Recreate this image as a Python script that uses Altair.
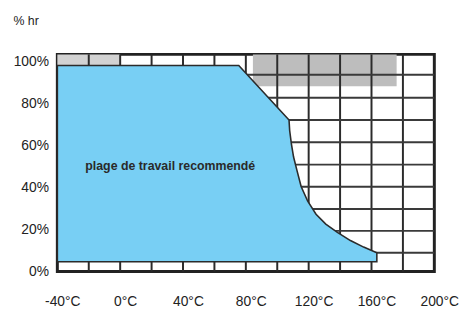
import altair as alt
import pandas as pd

# Recommended operating zone outline (temperature in °C, relative humidity in %)
zone_temp = [-40, 75.5, 107.5, 107.9, 109.0, 110.4, 112.5, 115.2, 119.4, 124.7,
             130.9, 138.3, 146.6, 155.0, 163.4]
zone_hum = [97.9, 97.9, 72.0, 67.0, 60.7, 54.4, 48.2, 40.4, 33.4, 27.2,
            22.5, 18.6, 14.7, 11.6, 8.9]
zone_floor = 4.6

# grid lines
grid_temp = [-20, 0, 20, 40, 60, 80, 100, 120, 140, 160, 180]
grid_hum = [8.9, 19.3, 29.7, 40.3, 50.8, 61.4, 72.0, 82.6, 93.5]

# axis ticks
temp_ticks = [-40, 0, 40, 80, 120, 160, 200]
hum_ticks = [0, 20, 40, 60, 80, 100]

# shaded (hatched) zones
hatch_t0 = [-40, 84.5]
hatch_t1 = [0, 176]
hatch_h0 = [97.9, 88.0]
hatch_h1 = [103.2, 103.2]
hatch_tone = ["light", "dark"]

label_text = ["plage de travail recommendé"]
label_temp = [-22.2]
label_hum = [50.3]

FONT = "Liberation Sans"

xscale = alt.Scale(domain=[-40, 200], nice=False, zero=False)
yscale = alt.Scale(domain=[0, 103.2], nice=False, zero=False)
xaxis = alt.Axis(values=temp_ticks, labelExpr="datum.value + '°C'",
                 labelPadding=23, labelOffset=5, labelFlush=False,
                 labelOverlap=False)
yaxis = alt.Axis(values=hum_ticks, labelExpr="datum.value + '%'",
                 labelPadding=9, labelFlush=False, labelOverlap=False,
                 titleAngle=0, titleX=-45, titleY=-34,
                 titleAlign="left", titleBaseline="middle", titleFontSize=12.5,
                 titleFontWeight="normal", titleColor="#222", titleFont=FONT)


def X(f):
    return alt.X(f, type="quantitative", scale=xscale, axis=xaxis, title=None)


def X2(f):
    return alt.X2(f)


def Y(f):
    return alt.Y(f, type="quantitative", scale=yscale, axis=yaxis, title="% hr")


zone_df = pd.DataFrame({"t": zone_temp, "h": zone_hum,
                        "f": [zone_floor] * len(zone_temp)})
hatch_df = pd.DataFrame({"t0": hatch_t0, "t1": hatch_t1, "h0": hatch_h0,
                         "h1": hatch_h1, "tone": hatch_tone})
vgrid_df = pd.DataFrame({"t": grid_temp})
hgrid_df = pd.DataFrame({"h": grid_hum})
label_df = pd.DataFrame({"t": label_temp, "h": label_hum, "txt": label_text})

hatch = alt.Chart(hatch_df).mark_rect(opacity=1).encode(
    x=X("t0"), x2=X2("t1"), y=Y("h0"), y2=alt.Y2("h1"),
    color=alt.Color("tone:N", scale=alt.Scale(domain=["light", "dark"],
                                              range=["#d2d2d2", "#bdbdbd"]),
                    legend=None),
)

vgrid = alt.Chart(vgrid_df).mark_rule(color="#2b2b2b", strokeWidth=2).encode(
    x=X("t"))
hgrid = alt.Chart(hgrid_df).mark_rule(color="#3a3a3a", strokeWidth=2).encode(
    y=Y("h"))

zone = alt.Chart(zone_df).mark_area(
    color="#78cff4", stroke="#2b2b2b", strokeWidth=1.6, interpolate="linear",
    opacity=1,
).encode(x=X("t"), y=Y("h"), y2=alt.Y2("f"))

label = alt.Chart(label_df).mark_text(
    align="left", baseline="middle", font=FONT, fontSize=12.5, fontWeight="bold",
    color="#2a2a2a",
).encode(x=X("t"), y=Y("h"), text="txt:N")

chart = alt.layer(hatch, vgrid, hgrid, zone, label).properties(
    width=382, height=220,
    padding={"left": 50, "top": 45, "right": 25, "bottom": 35},
    autosize=alt.AutoSizeParams(type="none"),
).configure_view(
    stroke="#222", strokeWidth=3,
).configure_axis(
    domain=False, ticks=False, grid=False, labelFont=FONT, labelFontSize=14,
    labelColor="#222",
)

chart.save("out.html", embed_options={"renderer": "svg", "actions": False})
